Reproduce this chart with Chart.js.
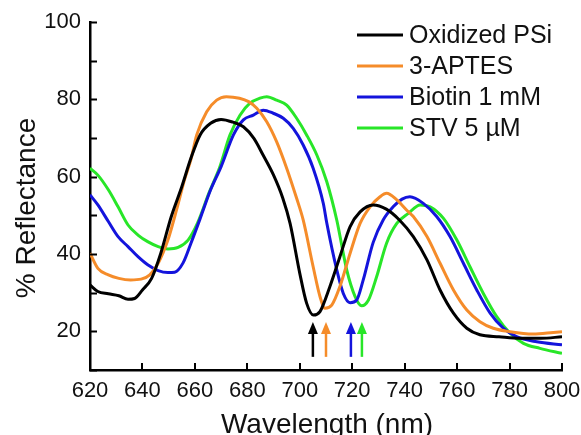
<!DOCTYPE html>
<html>
<head>
<meta charset="utf-8">
<script src="https://cdn.jsdelivr.net/npm/chart.js@4/dist/chart.umd.min.js"></script>
<style>
  html, body { margin: 0; padding: 0; background: #ffffff; }
  #wrap { width: 581px; height: 435px; }
</style>
</head>
<body>
<div id="wrap"><canvas id="c"></canvas></div>
<script>
// Reflectance spectra (wavelength in nm, reflectance in %)
const seriesNames = ['Oxidized PSi', '3-APTES', 'Biotin 1 mM', 'STV 5 \u00B5M'];
const seriesColors = ['#000000', '#F58C2A', '#1414DC', '#28E628'];

const oxidizedWl = [620, 623, 627, 631, 634.5, 637, 640, 643.5, 647, 651, 655, 658.5, 662, 666, 670, 674.5, 678.5, 682.5, 686, 690, 693.5, 696.3, 700, 702.6, 705.2, 707.7, 711.5, 715.3, 719.2, 723, 728, 733, 738, 743.3, 748.5, 753.5, 758.6, 763.7, 768.7, 776, 784, 792, 800];
const oxidizedR  = [32.0, 30.3, 29.7, 29.2, 28.3, 28.5, 30.7, 33.7, 40.2, 49.7, 57.4, 64.8, 70.8, 73.8, 74.8, 74.1, 72.9, 69.9, 65.6, 60.4, 54.5, 47.9, 35.0, 27.3, 24.2, 25.1, 31.6, 39.3, 47.1, 50.9, 52.7, 51.6, 48.8, 44.5, 38.5, 30.7, 24.7, 20.8, 19.1, 18.6, 18.2, 18.2, 18.6];

const aptesWl = [620, 623, 627, 631, 635.5, 639.5, 642.8, 646, 649.7, 653, 656, 658.5, 660.7, 664.5, 668.3, 672, 677, 680.5, 683.6, 687.4, 691.2, 695, 698.8, 701.3, 705.1, 707.7, 709.6, 712.2, 715.3, 719.2, 723, 726.8, 730.6, 733.1, 737, 741, 743.3, 748.5, 753.5, 758.6, 763.7, 768.7, 773.8, 780.2, 789, 796.7, 800];
const aptesR  = [40.2, 36.3, 34.6, 33.7, 33.3, 33.5, 34.6, 37.6, 43.6, 51.4, 59.1, 64.5, 70.8, 76.8, 79.8, 80.7, 80.3, 79.4, 77.7, 74.2, 69.0, 62.2, 54.4, 48.8, 36.7, 29.0, 26.0, 26.8, 31.6, 40.2, 47.9, 52.2, 54.8, 55.7, 54.0, 51.2, 49.7, 44.5, 37.6, 30.7, 25.5, 22.5, 20.8, 19.9, 19.3, 19.7, 19.9];

const biotinWl = [620, 623, 627, 630.7, 634.5, 638.3, 642, 646, 649.7, 652.3, 655.5, 658.5, 662.3, 666, 670, 674.7, 678.5, 682.3, 686.1, 689.9, 693.7, 697.5, 701.3, 705.1, 709, 710.3, 714.1, 716.6, 719.2, 721.7, 724.2, 728, 731.8, 735.6, 739, 742, 747.1, 752.2, 757.3, 762.4, 767.5, 772.6, 777.6, 782.7, 790.4, 800];
const biotinR  = [55.3, 52.7, 48.4, 44.5, 41.9, 39.3, 37.2, 35.7, 35.2, 35.3, 37.7, 42.8, 49.7, 56.6, 62.6, 70.8, 74.7, 75.9, 77.2, 76.4, 75.1, 72.5, 68.2, 62.2, 53.0, 48.0, 35.9, 29.8, 27.4, 28.1, 33.3, 43.0, 48.8, 52.2, 54.2, 54.8, 53.1, 49.7, 44.5, 37.6, 30.7, 24.7, 20.8, 18.6, 17.3, 16.5];

const stvWl = [620, 623, 627, 630.7, 634.5, 638.3, 642, 646, 649.7, 653.6, 657.4, 661, 665.5, 669.5, 673.4, 677.2, 681, 684.8, 687.4, 691.2, 695, 698.8, 702.6, 706.5, 710.3, 714.1, 717.9, 721.1, 723.6, 726.2, 729.3, 733.1, 737, 741.4, 745.9, 749.7, 754.8, 759.9, 764.9, 770, 775.1, 780.2, 785.3, 791.6, 800];
const stvR  = [62.2, 60.4, 56.6, 52.2, 47.5, 44.9, 43.2, 41.9, 41.3, 41.7, 43.6, 48.0, 56.0, 62.5, 70.8, 75.9, 79.0, 80.3, 80.7, 79.8, 78.5, 75.1, 70.8, 65.6, 58.7, 48.8, 35.9, 29.0, 26.6, 28.1, 34.1, 42.8, 47.9, 50.5, 52.7, 52.2, 49.2, 43.6, 36.7, 29.8, 23.8, 19.5, 16.9, 15.6, 14.3];

// Arrows marking each reflectance dip
const arrowWl = [705, 710, 719.5, 723.7];
const arrowTipR = 22.4;
const arrowBaseR = 13.4;

// Axes
const xMin = 620, xMax = 800, xStep = 20;
const yMin = 10, yMax = 100, yStep = 10;
const yLabelValues = [20, 40, 60, 80, 100];
const xTitle = 'Wavelength (nm)';
const yTitle = '% Reflectance';

const FONT = '"Liberation Sans", Arial, sans-serif';

function toPoints(wl, r) {
  return wl.map((w, i) => ({ x: w, y: r[i] }));
}

const allWl = [oxidizedWl, aptesWl, biotinWl, stvWl];
const allR = [oxidizedR, aptesR, biotinR, stvR];

const datasets = seriesNames.map((name, i) => ({
  label: name,
  data: toPoints(allWl[i], allR[i]),
  borderColor: seriesColors[i],
  backgroundColor: seriesColors[i],
  borderWidth: 3,
  pointRadius: 0,
  cubicInterpolationMode: 'monotone',
  fill: false
}));

// Inward tick marks on both axes
const innerTicks = {
  id: 'innerTicks',
  afterDatasetsDraw(chart) {
    const { ctx, chartArea } = chart;
    const xs = chart.scales.x, ys = chart.scales.y;
    ctx.save();
    ctx.strokeStyle = '#000';
    ctx.lineWidth = 2;
    ys.ticks.forEach(t => {
      const py = Math.round(ys.getPixelForValue(t.value)) + 0.5;
      ctx.beginPath();
      ctx.moveTo(chartArea.left, py);
      ctx.lineTo(chartArea.left + 7, py);
      ctx.stroke();
    });
    xs.ticks.forEach(t => {
      const px = Math.round(xs.getPixelForValue(t.value));
      ctx.beginPath();
      ctx.moveTo(px, chartArea.bottom);
      ctx.lineTo(px, chartArea.bottom - 7);
      ctx.stroke();
    });
    ctx.restore();
  }
};

// Dip arrows, axis titles and legend
const annotations = {
  id: 'annotations',
  afterDraw(chart) {
    const { ctx } = chart;
    const xs = chart.scales.x, ys = chart.scales.y;
    ctx.save();

    arrowWl.forEach((w, i) => {
      const px = xs.getPixelForValue(w);
      const tip = ys.getPixelForValue(arrowTipR);
      const base = ys.getPixelForValue(arrowBaseR);
      const headLen = 12, headHalf = 5;
      ctx.strokeStyle = seriesColors[i];
      ctx.fillStyle = seriesColors[i];
      ctx.lineWidth = 2.5;
      ctx.beginPath();
      ctx.moveTo(px, base);
      ctx.lineTo(px, tip + headLen - 1);
      ctx.stroke();
      ctx.beginPath();
      ctx.moveTo(px, tip);
      ctx.lineTo(px - headHalf, tip + headLen);
      ctx.lineTo(px + headHalf, tip + headLen);
      ctx.closePath();
      ctx.fill();
    });

    ctx.fillStyle = '#111';
    ctx.font = '28px ' + FONT;
    ctx.textAlign = 'center';
    ctx.textBaseline = 'alphabetic';
    ctx.fillText(xTitle, (chart.chartArea.left + chart.chartArea.right) / 2 + 1, 433);

    ctx.save();
    ctx.translate(35, 208);
    ctx.rotate(-Math.PI / 2);
    ctx.fillText(yTitle, 0, 0);
    ctx.restore();

    const rowTop = 35, rowGap = 31;
    ctx.font = '25px ' + FONT;
    ctx.textAlign = 'left';
    ctx.textBaseline = 'middle';
    seriesNames.forEach((name, i) => {
      const y = rowTop + i * rowGap;
      ctx.strokeStyle = seriesColors[i];
      ctx.lineWidth = 3;
      ctx.beginPath();
      ctx.moveTo(357, y);
      ctx.lineTo(403, y);
      ctx.stroke();
      ctx.fillStyle = '#111';
      ctx.fillText(name, 409, y + 1);
    });
    ctx.restore();
  }
};

new Chart(document.getElementById('c'), {
  type: 'line',
  data: { datasets },
  options: {
    responsive: true,
    maintainAspectRatio: false,
    animation: false,
    events: [],
    layout: { padding: { top: 22, right: 19, left: 0, bottom: 0 } },
    plugins: {
      legend: { display: false },
      tooltip: { enabled: false }
    },
    scales: {
      x: {
        type: 'linear',
        min: xMin,
        max: xMax,
        afterFit(scale) {
          scale.height = 65;
          scale.paddingLeft = 0;
          scale.paddingRight = 0;
        },
        grid: { display: false, drawTicks: false },
        border: { display: true, color: '#000', width: 2.5 },
        ticks: {
          stepSize: xStep,
          padding: 8,
          color: '#111',
          font: { family: FONT, size: 22 }
        }
      },
      y: {
        type: 'linear',
        min: yMin,
        max: yMax,
        afterFit(scale) {
          scale.width = 90;
          scale.paddingTop = 0;
          scale.paddingBottom = 0;
        },
        grid: { display: false, drawTicks: false },
        border: { display: true, color: '#000', width: 2.5 },
        ticks: {
          stepSize: yStep,
          padding: 9,
          color: '#111',
          font: { family: FONT, size: 22 },
          callback: (v) => yLabelValues.includes(v) ? String(v) : ''
        }
      }
    }
  },
  plugins: [innerTicks, annotations]
});
</script>
</body>
</html>
